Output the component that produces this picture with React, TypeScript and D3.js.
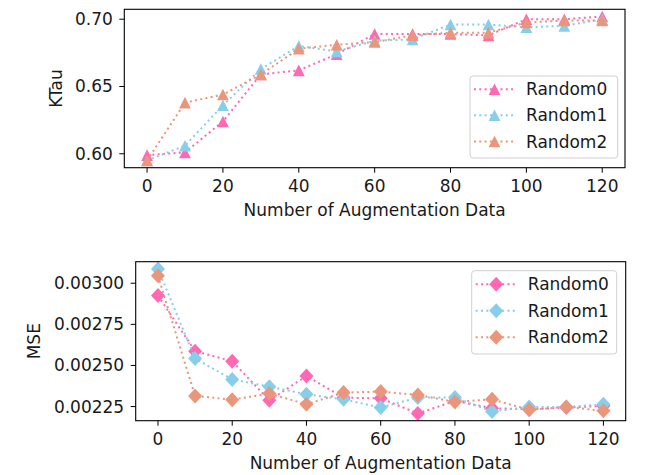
import React from "react";
import * as d3 from "d3";

const xs = [0, 10, 20, 30, 40, 50, 60, 70, 80, 90, 100, 110, 120];
const seriesNames = ["Random0", "Random1", "Random2"];
const colors = ["#ff69b4", "#87ceeb", "#e9967a"];

const ktau0 = [0.599, 0.601, 0.624, 0.659, 0.662, 0.674, 0.689, 0.689, 0.689, 0.688, 0.7, 0.7, 0.702];
const ktau1 = [0.595, 0.606, 0.636, 0.663, 0.68, 0.676, 0.684, 0.685, 0.696, 0.696, 0.694, 0.695, 0.7];
const ktau2 = [0.595, 0.638, 0.644, 0.659, 0.678, 0.681, 0.683, 0.688, 0.69, 0.69, 0.6975, 0.699, 0.699];

const mse0 = [0.002925, 0.002587, 0.002526, 0.002288, 0.002436, 0.002304, 0.0023, 0.002208, 0.002284, 0.00224, 0.002234, 0.002244, 0.002254];
const mse1 = [0.003087, 0.002542, 0.002415, 0.002371, 0.002325, 0.002294, 0.002244, 0.002305, 0.002305, 0.00222, 0.002248, 0.002248, 0.002264];
const mse2 = [0.003046, 0.002315, 0.002292, 0.002329, 0.002264, 0.002335, 0.002341, 0.002321, 0.002278, 0.002294, 0.00223, 0.002248, 0.002224];

const xTicks = [0, 20, 40, 60, 80, 100, 120];
const ktauTicks = [0.6, 0.65, 0.7];
const mseTicks = [0.00225, 0.0025, 0.00275, 0.003];

const FONT = "DejaVu Sans, sans-serif";
const FS = 17;

type PanelProps = {
  left: number; right: number; top: number; bottom: number;
  series: number[][]; yTicks: number[]; yFmt: (v: number) => string;
  ylabel: string; ylabelX: number; marker: "tri" | "dia";
  legendBox: { x: number; y: number; w: number; h: number; rows: number[] };
};

function markerPath(kind: "tri" | "dia") {
  if (kind === "tri") {
    const w = 5.9, h = 5.8;
    return `M0,${-h}L${w},${h}L${-w},${h}Z`;
  }
  const w = 7, h = 7.5;
  return `M0,${-h}L${w},0L0,${h}L${-w},0Z`;
}

function Panel(p: PanelProps) {
  const x = d3.scaleLinear().domain([-6, 126]).range([p.left, p.right]);
  const all = p.series.flat();
  const [mn, mx] = d3.extent(all) as [number, number];
  const pad = (mx - mn) * 0.05;
  const y = d3.scaleLinear().domain([mn - pad, mx + pad]).range([p.bottom, p.top]);
  const line = d3.line<number>().x((_, i) => x(xs[i])).y((d) => y(d));
  const mp = markerPath(p.marker);
  const cx = (p.left + p.right) / 2;
  const cy = (p.top + p.bottom) / 2;
  const lb = p.legendBox;
  return (
    <g>
      <defs>
        <clipPath id={`clip-${p.ylabel}`}>
          <rect x={p.left} y={p.top} width={p.right - p.left} height={p.bottom - p.top} />
        </clipPath>
      </defs>
      <g clipPath={`url(#clip-${p.ylabel})`}>
        {p.series.map((s, si) => (
          <g key={si}>
            <path d={line(s) || ""} fill="none" stroke={colors[si]} strokeWidth={2} strokeDasharray="2 3.3" />
            {s.map((v, i) => (
              <path key={i} d={mp} transform={`translate(${x(xs[i])},${y(v)})`} fill={colors[si]} />
            ))}
          </g>
        ))}
      </g>
      <rect x={p.left} y={p.top} width={p.right - p.left} height={p.bottom - p.top} fill="none" stroke="#000" strokeWidth={1.1} />
      {xTicks.map((t) => (
        <g key={t}>
          <line x1={x(t)} x2={x(t)} y1={p.bottom} y2={p.bottom + 5} stroke="#000" strokeWidth={1} />
          <text x={x(t)} y={p.bottom + 24.5} textAnchor="middle" fontFamily={FONT} fontSize={FS} fill="#1a1a1a">{t}</text>
        </g>
      ))}
      {p.yTicks.map((t) => (
        <g key={t}>
          <line x1={p.left - 5} x2={p.left} y1={y(t)} y2={y(t)} stroke="#000" strokeWidth={1} />
          <text x={p.left - 11.5} y={y(t)} textAnchor="end" dominantBaseline="central" fontFamily={FONT} fontSize={FS} fill="#1a1a1a">{p.yFmt(t)}</text>
        </g>
      ))}
      <text x={cx} y={p.bottom + 48.5} textAnchor="middle" fontFamily={FONT} fontSize={FS} fill="#1a1a1a">Number of Augmentation Data</text>
      <text transform={`translate(${p.ylabelX},${cy}) rotate(-90)`} textAnchor="middle" dominantBaseline="central" fontFamily={FONT} fontSize={FS} fill="#1a1a1a">{p.ylabel}</text>
      <rect x={lb.x} y={lb.y} width={lb.w} height={lb.h} rx={3} fill="#fff" fillOpacity={0.8} stroke="#d0d0d0" strokeWidth={1} />
      {seriesNames.map((n, si) => (
        <g key={n}>
          <line x1={lb.x + 4} x2={lb.x + 44} y1={lb.rows[si]} y2={lb.rows[si]} stroke={colors[si]} strokeWidth={2} strokeDasharray="2 3.3" />
          <path d={mp} transform={`translate(${lb.x + 24.5},${lb.rows[si]})`} fill={colors[si]} />
          <text x={lb.x + 56} y={lb.rows[si]} dominantBaseline="central" fontFamily={FONT} fontSize={FS} fill="#1a1a1a">{n}</text>
        </g>
      ))}
    </g>
  );
}

export default function App() {
  return (
    <svg width={665} height={475} style={{ position: "absolute", left: 0, top: 0, background: "#fff" }}>
      <rect width={665} height={475} fill="#fff" />
      <Panel
        left={124.3} right={625} top={9.3} bottom={167.7}
        series={[ktau0, ktau1, ktau2]} yTicks={ktauTicks} yFmt={d3.format(".2f")}
        ylabel="KTau" ylabelX={56} marker="tri"
        legendBox={{ x: 470, y: 76, w: 147.7, h: 82, rows: [89.3, 115.3, 141.5] }}
      />
      <Panel
        left={135.7} right={625.7} top={261.7} bottom={420.7}
        series={[mse0, mse1, mse2]} yTicks={mseTicks} yFmt={d3.format(".5f")}
        ylabel="MSE" ylabelX={34} marker="dia"
        legendBox={{ x: 471.7, y: 270.7, w: 145, h: 83.3, rows: [284.3, 310.8, 337.3] }}
      />
    </svg>
  );
}
